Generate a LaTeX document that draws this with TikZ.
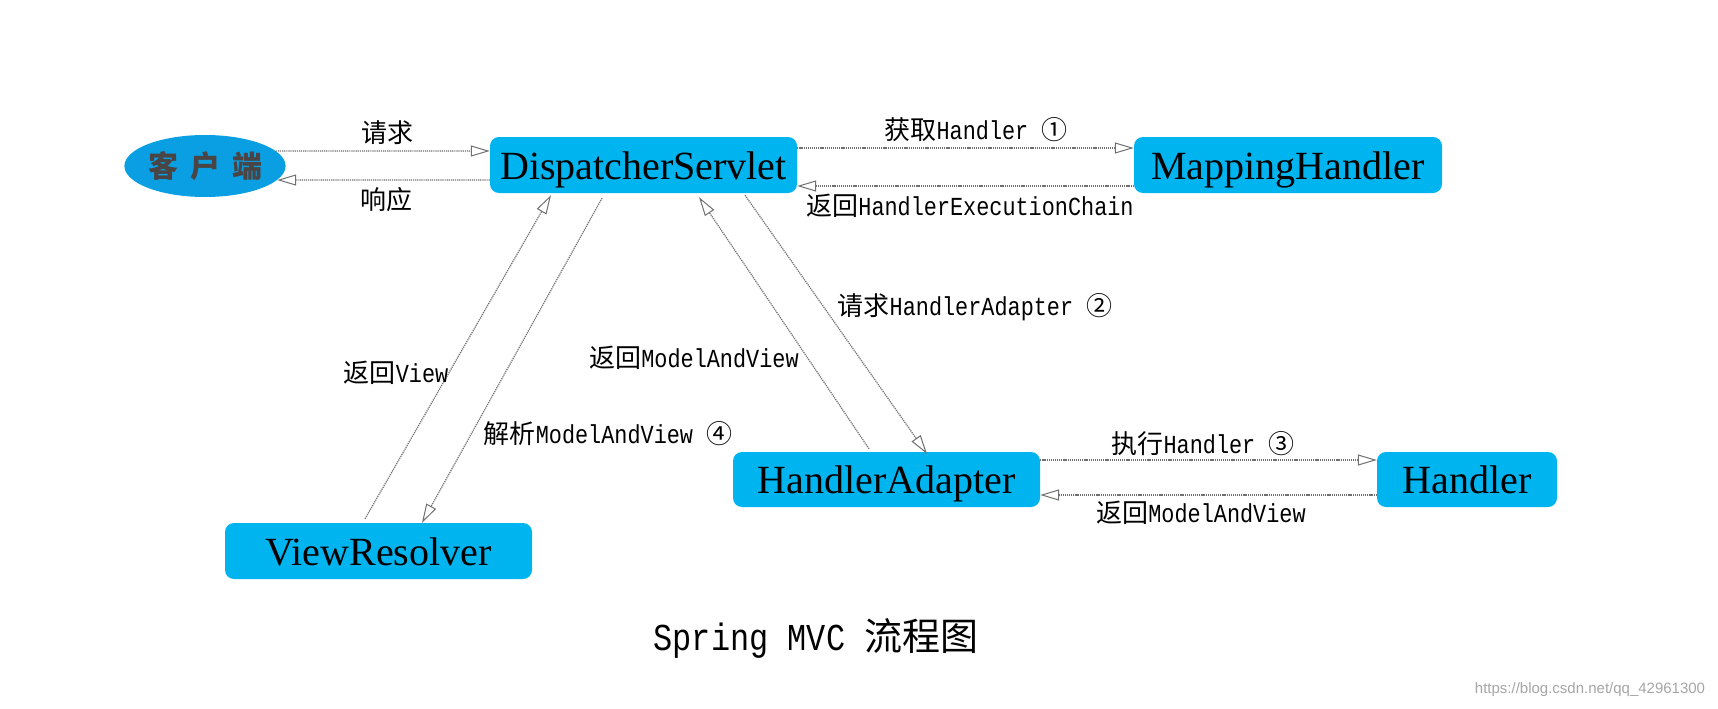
\documentclass[tikz,border=0pt]{standalone}
\usepackage{fontspec}
\setmainfont{Liberation Serif}
\newfontfamily\cjk{Noto Sans CJK SC}
\newfontfamily\latmono[FakeStretch=0.84]{Liberation Mono}
\newfontfamily\wmfont{Liberation Sans}
\usetikzlibrary{arrows.meta,shapes.geometric,calc}
\definecolor{boxblue}{HTML}{00B5EF}
\definecolor{ellblue}{HTML}{0A9FE3}
\definecolor{arrgray}{HTML}{707070}
\definecolor{clienttext}{HTML}{4A4444}
\tikzset{
  box/.style={fill=boxblue, rounded corners=9pt, inner sep=0pt, text height=28pt, text depth=0pt,
    font=\fontsize{40}{48}\selectfont},
  arr/.style={draw=arrgray, line width=1.2pt, dash pattern=on 1.2pt off 0.9pt,
    -{Triangle[open,length=19pt,width=11pt,line width=1pt]}},
  lab/.style={inner sep=0pt, font=\cjk\fontsize{26}{30}\selectfont},
  biglab/.style={inner sep=0pt, font=\cjk\fontsize{26}{30}\selectfont},
}
\begin{document}
\begin{tikzpicture}[x=1pt,y=-1pt]
\useasboundingbox[fill=white] (0,0) rectangle (1718,709);

% nodes
\node[ellipse, fill=ellblue, minimum width=156pt, minimum height=62pt, inner sep=0pt,
      font=\cjk\bfseries\fontsize{30}{34}\selectfont, text=clienttext] (cl) at (205,166)
      {客\hspace{12pt}户\hspace{12pt}端};
\node[box, minimum width=307pt, minimum height=56pt] (ds) at (643.5,165) {DispatcherServlet};
\node[box, minimum width=308pt, minimum height=56pt] (mh) at (1288,165) {MappingHandler};
\node[box, minimum width=307pt, minimum height=55pt] (ha) at (886.5,479.5) {HandlerAdapter};
\node[box, minimum width=180pt, minimum height=55pt] (hd) at (1467,479.5) {Handler};
\node[box, minimum width=307pt, minimum height=56pt] (vr) at (378.5,551) {ViewResolver};

% horizontal connectors
\draw[arr] (cl.12) -- ([yshift=14pt]ds.west);
\draw[arr] ([yshift=-15pt]ds.west) -- (cl.349);
\draw[arr] ([yshift=17pt]ds.east) -- ([yshift=17pt]mh.west);
\draw[arr] ([yshift=-21pt]mh.west) -- ([yshift=-21pt]ds.east);
\draw[arr] ([yshift=19.5pt]ha.east) -- ([yshift=19.5pt]hd.west);
\draw[arr] ([yshift=-15.5pt]hd.west) -- ([yshift=-15.5pt]ha.east);

% diagonal connectors
\draw[arr] ([xshift=101.5pt,yshift=-2pt]ds.south) -- ([xshift=40.5pt,yshift=-2pt]ha.north);
\draw[arr] ([xshift=-17.5pt,yshift=3pt]ha.north) -- ([xshift=55.5pt,yshift=-4pt]ds.south);
\draw[arr] ([xshift=-41.5pt,yshift=-5pt]ds.south) -- ([xshift=43.5pt]vr.north);
\draw[arr] ([xshift=-13.5pt,yshift=4pt]vr.north) -- ([xshift=-92.5pt,yshift=-2pt]ds.south);

% labels
\node[biglab] (l1) at (387,133) {请求};
\node[biglab] (l2) at (386,200) {响应};
\node[lab] (l3) at (976,130) {获取{\latmono Handler }①};
\node[lab] (l4) at (970,206) {返回{\latmono HandlerExecutionChain}};
\node[lab] (l5) at (975,307) {请求{\latmono HandlerAdapter }②};
\node[lab] (l6) at (694,358) {返回{\latmono ModelAndView}};
\node[lab] (l7) at (608,434) {解析{\latmono ModelAndView }④};
\node[lab] (l8) at (396,373) {返回{\latmono View}};
\node[lab] (l9) at (1203,444) {执行{\latmono Handler }③};
\node[lab] (l10) at (1201,513) {返回{\latmono ModelAndView}};

% title and watermark
\node[inner sep=0pt, font=\cjk\fontsize{38}{44}\selectfont] (title) at (816,638)
  {{\latmono Spring MVC }流程图};
\node[inner sep=0pt, font=\wmfont\fontsize{15}{18}\selectfont, text=black!35] (wm) at (1590,690)
  {https://blog.csdn.net/qq\_42961300};
\end{tikzpicture}
\end{document}
